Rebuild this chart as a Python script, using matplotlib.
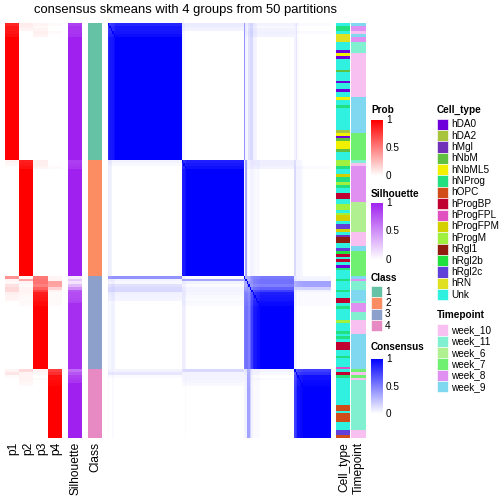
import numpy as np
import matplotlib
matplotlib.use("Agg")
import matplotlib.pyplot as plt
from matplotlib.colors import ListedColormap, LinearSegmentedColormap
from matplotlib.patches import Rectangle

plt.rcParams['font.family'] = ['Liberation Sans', 'DejaVu Sans']

title = "consensus skmeans with 4 groups from 50 partitions"

class_labels = ['1', '2', '3', '4']
class_colors = ['#66C2A5', '#FC8D62', '#8DA0CB', '#E78AC3']
class_sizes = [50, 42, 34, 25]

cell_types = ['hDA0', 'hDA2', 'hMgl', 'hNbM', 'hNbML5', 'hNProg', 'hOPC', 'hProgBP',
              'hProgFPL', 'hProgFPM', 'hProgM', 'hRgl1', 'hRgl2b', 'hRgl2c', 'hRN', 'Unk']
cell_type_colors = ['#6E00DC', '#A8C43C', '#7030B8', '#60C040', '#F0F000', '#20E080',
                    '#D04C18', '#C00030', '#E050C0', '#D4D000', '#A0F040', '#901C10',
                    '#20E040', '#6040D8', '#E0E020', '#30F0E0']

timepoints = ['week_10', 'week_11', 'week_6', 'week_7', 'week_8', 'week_9']
timepoint_colors = ['#F8C0F0', '#80F0D0', '#B0F090', '#70F070', '#E090F0', '#80D8F0']

# run-length encoded annotations, top to bottom
cell_type_runs = [
    ('Unk', 1), ('hNProg', 2), ('Unk', 1), ('hRN', 3), ('Unk', 3), ('hDA0', 1),
    ('hNbML5', 1), ('hDA0', 1), ('Unk', 4), ('hNbM', 1), ('Unk', 3), ('hDA0', 1),
    ('Unk', 2), ('hDA0', 1), ('Unk', 2), ('hNbML5', 1), ('Unk', 2), ('hNProg', 1),
    ('Unk', 8), ('hDA2', 1), ('hNbML5', 1), ('hDA0', 1), ('hNbM', 1), ('hNbML5', 3),
    ('hNbM', 1), ('Unk', 3),
    ('hProgM', 2), ('hNProg', 1), ('Unk', 2), ('hProgFPM', 1), ('hNProg', 2),
    ('hProgM', 1), ('hNProg', 1), ('Unk', 2), ('hProgBP', 2), ('Unk', 2), ('hProgM', 2),
    ('Unk', 1), ('hProgM', 1), ('hProgFPM', 2), ('Unk', 1), ('hRgl2c', 2), ('hProgFPM', 1),
    ('Unk', 1), ('hMgl', 1), ('hRgl1', 2), ('Unk', 2), ('hRgl2c', 1), ('hRgl2b', 1),
    ('hProgBP', 1), ('Unk', 1), ('hProgBP', 1), ('Unk', 1), ('hDA0', 1), ('hNProg', 1),
    ('Unk', 3),
    ('hNProg', 1), ('Unk', 3), ('hNProg', 1), ('Unk', 2), ('hProgBP', 2), ('Unk', 1),
    ('hNProg', 1), ('Unk', 4), ('hProgM', 1), ('Unk', 3), ('hNProg', 1), ('Unk', 1),
    ('hNProg', 1), ('Unk', 1), ('hProgBP', 3), ('Unk', 2), ('hNProg', 1), ('Unk', 3),
    ('hProgFPL', 1),
    ('Unk', 1), ('hProgBP', 1), ('hNProg', 1), ('Unk', 10), ('hOPC', 2), ('Unk', 1),
    ('hOPC', 3), ('Unk', 3), ('hRgl2c', 2), ('hOPC', 1),
]
timepoint_runs = [
    ('week_9', 1), ('week_8', 2), ('week_10', 1), ('week_9', 1), ('week_8', 2),
    ('week_11', 4), ('week_10', 16), ('week_9', 13), ('week_7', 10),
    ('week_11', 1), ('week_10', 1), ('week_8', 13), ('week_6', 11), ('week_10', 5),
    ('week_9', 2), ('week_7', 9),
    ('week_9', 1), ('week_8', 1), ('week_11', 3), ('week_9', 4), ('week_11', 1),
    ('week_8', 3), ('week_11', 3), ('week_10', 5), ('week_9', 13),
    ('week_7', 1), ('week_10', 1), ('week_7', 1), ('week_10', 1), ('week_11', 18),
    ('week_10', 3),
]

# membership probabilities (p1..p4) of samples that are not certain members
membership_exceptions = {
    0: (0.85, 0.08, 0.05, 0.02), 1: (0.90, 0.07, 0.03, 0.0), 2: (0.90, 0.05, 0.05, 0.0),
    3: (0.92, 0.0, 0.06, 0.02), 4: (0.95, 0.0, 0.05, 0.0),
    50: (0.05, 0.88, 0.07, 0.0), 51: (0.03, 0.90, 0.07, 0.0), 52: (0.0, 0.93, 0.05, 0.02),
    92: (0.42, 0.02, 0.52, 0.04), 93: (0.05, 0.35, 0.55, 0.05), 94: (0.03, 0.05, 0.55, 0.37),
    95: (0.12, 0.02, 0.50, 0.36), 96: (0.15, 0.05, 0.62, 0.18), 97: (0.15, 0.05, 0.75, 0.05),
    98: (0.06, 0.04, 0.88, 0.02), 99: (0.05, 0.03, 0.90, 0.02), 100: (0.04, 0.02, 0.92, 0.02),
    101: (0.0, 0.03, 0.95, 0.02), 102: (0.0, 0.02, 0.96, 0.02),
    126: (0.05, 0.15, 0.05, 0.75), 127: (0.10, 0.05, 0.03, 0.82), 128: (0.02, 0.05, 0.0, 0.93),
    129: (0.0, 0.05, 0.02, 0.93), 130: (0.0, 0.04, 0.0, 0.96), 131: (0.0, 0.03, 0.0, 0.97),
}
silhouette_core = [1.0, 1.0, 0.93, 1.0]
silhouette_exceptions = {
    0: 0.85, 1: 0.9, 2: 0.9, 3: 0.9, 4: 0.92, 50: 0.86, 51: 0.88, 52: 0.9,
    92: 0.1, 93: 0.25, 94: 0.12, 95: 0.3, 96: 0.5, 97: 0.75, 98: 0.8, 99: 0.8,
    100: 0.82, 101: 0.85, 126: 0.65, 127: 0.75, 128: 0.85, 129: 0.88, 130: 0.9,
}

# ---------------- build matrices ----------------
n = sum(class_sizes)
cls = np.concatenate([[k] * s for k, s in enumerate(class_sizes)])
P = np.zeros((n, 4))
P[np.arange(n), cls] = 1.0
for i, v in membership_exceptions.items():
    P[i] = v
sil = np.array([silhouette_core[c] for c in cls], dtype=float)
for i, v in silhouette_exceptions.items():
    sil[i] = v
C = P @ P.T
np.fill_diagonal(C, 1.0)

ct = [lab for lab, k in cell_type_runs for _ in range(k)]
tp = [lab for lab, k in timepoint_runs for _ in range(k)]
ct_idx = np.array([cell_types.index(x) for x in ct])[:, None]
tp_idx = np.array([timepoints.index(x) for x in tp])[:, None]

prob_cmap = LinearSegmentedColormap.from_list('prob', ['#FFFFFF', '#FF0000'])
sil_cmap = LinearSegmentedColormap.from_list('sil', ['#FFFFFF', '#A020F0'])
cons_cmap = LinearSegmentedColormap.from_list('cons', ['#FFFFFF', '#0000FF'])

W = H = 504
fig = plt.figure(figsize=(7, 7), dpi=72)


def px_axes(x0, y0, x1, y1):
    ax = fig.add_axes([x0 / W, 1 - y1 / H, (x1 - x0) / W, (y1 - y0) / H])
    ax.set_axis_off()
    return ax


TOP, BOT = 23, 438
ax = px_axes(5, TOP, 62, BOT)
ax.imshow(P, aspect='auto', interpolation='nearest', cmap=prob_cmap, vmin=0, vmax=1)
ax = px_axes(68, TOP, 82, BOT)
ax.imshow(sil[:, None], aspect='auto', interpolation='nearest', cmap=sil_cmap, vmin=0, vmax=1)
ax = px_axes(88, TOP, 102, BOT)
ax.imshow(cls[:, None], aspect='auto', interpolation='nearest',
          cmap=ListedColormap(class_colors), vmin=-0.5, vmax=3.5)
ax = px_axes(108, TOP, 331, BOT)
ax.imshow(C, aspect='auto', interpolation='nearest', cmap=cons_cmap, vmin=0, vmax=1)
ax = px_axes(336, TOP, 350, BOT)
ax.imshow(ct_idx, aspect='auto', interpolation='nearest',
          cmap=ListedColormap(cell_type_colors), vmin=-0.5, vmax=len(cell_types) - 0.5)
ax = px_axes(351, TOP, 366, BOT)
ax.imshow(tp_idx, aspect='auto', interpolation='nearest',
          cmap=ListedColormap(timepoint_colors), vmin=-0.5, vmax=len(timepoints) - 0.5)

# overlay for texts and legends
ov = fig.add_axes([0, 0, 1, 1])
ov.set_xlim(0, W)
ov.set_ylim(H, 0)
ov.set_axis_off()
ov.patch.set_alpha(0)

ov.text(185.5, 10, title, ha='center', va='center', fontsize=13)

bottom_labels = [('p1', 13.5), ('p2', 28), ('p3', 42), ('p4', 56.5), ('Silhouette', 75.5),
                 ('Class', 95), ('Cell_type', 344.5), ('Timepoint', 359)]
for lab, x in bottom_labels:
    ov.text(x, 442, lab, rotation=90, ha='center', va='top', fontsize=12)


def colorbar(x, y_top, y_bot, cmap, name, title_y):
    ov.text(x, title_y, name, ha='left', va='center', fontsize=10, fontweight='bold')
    cax = px_axes(x, y_top, x + 12, y_bot)
    grad = np.linspace(1, 0, 100)[:, None]
    cax.imshow(grad, aspect='auto', cmap=cmap, vmin=0, vmax=1)
    for v, lab in [(1, '1'), (0.5, '0.5'), (0, '0')]:
        yy = y_bot - v * (y_bot - y_top)
        ov.text(x + 15, yy, lab, ha='left', va='center', fontsize=10)
        if v > 0:
            ov.plot([x, x + 2.5], [yy, yy], color='white', lw=1)
            ov.plot([x + 9.5, x + 12], [yy, yy], color='white', lw=1)


colorbar(371, 120, 176, prob_cmap, 'Prob', 110)
colorbar(371, 203, 260, sil_cmap, 'Silhouette', 194)
colorbar(371, 359, 414, cons_cmap, 'Consensus', 347)


def discrete_legend(x, title_y, first_y, labels, colors, name):
    ov.text(x, title_y, name, ha='left', va='center', fontsize=10, fontweight='bold')
    for i, (lab, col) in enumerate(zip(labels, colors)):
        yy = first_y + i * 11.35
        ov.add_patch(Rectangle((x, yy - 5.6), 11.3, 11.3, facecolor=col,
                               edgecolor='white', lw=0.6))
        ov.text(x + 14, yy, lab, ha='left', va='center', fontsize=10)


discrete_legend(371, 278, 291.7, class_labels, class_colors, 'Class')
discrete_legend(437, 110, 124.3, cell_types, cell_type_colors, 'Cell_type')
discrete_legend(437, 315, 330, timepoints, timepoint_colors, 'Timepoint')

fig.savefig('out.png', dpi=72)
